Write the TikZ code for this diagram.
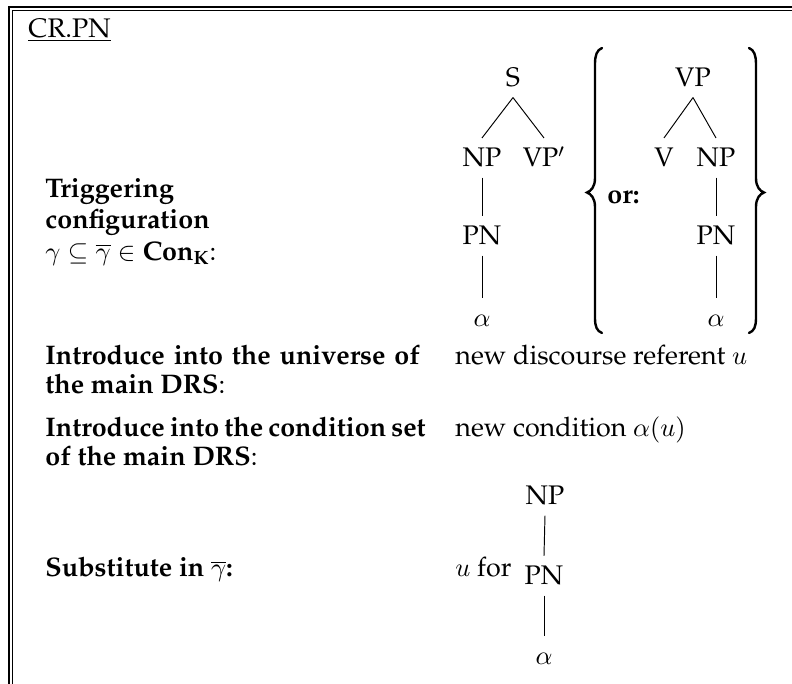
\documentclass[tikz,border=0pt]{standalone}
\usepackage[T1]{fontenc}
\usepackage{palatino}
\newcommand\fs{\fontsize{11.2}{13.4}\selectfont}
\begin{document}
\begin{tikzpicture}[x=0.4167pt,y=-0.4167pt,
  tn/.style={inner xsep=0pt, inner ysep=4.2pt, text height=7.7pt, text depth=0pt, anchor=base, font=\fs},
  edge/.style={line width=0.4pt},
  lbl/.style={inner sep=0pt, anchor=base west, font=\fontsize{11.2}{11.7}\selectfont\bfseries},
  txt/.style={inner sep=0pt, anchor=base west, font=\fs},
  brc/.style={line width=1pt, line cap=round}]
\useasboundingbox (0,0) rectangle (792,684);
% frame
\draw[line width=0.7pt] (9,684) -- (9,7) -- (792,7);
\draw[line width=0.4pt] (12.5,684) -- (12.5,10.5) -- (792,10.5);
% title
\node[txt] (title) at (28,37) {\underline{CR.PN}};
% left tree
\node[tn] (S) at (513,87) {S};
\node[tn] (NPa) at (482,167) {NP};
\node[tn] (VPp) at (544,167) {VP$'$};
\node[tn] (PNa) at (482,245) {PN};
\node[tn] (ala) at (482,327) {$\alpha$};
\draw[edge] (S.south) -- (NPa.north);
\draw[edge] (S.south) -- (VPp.north);
\draw[edge] (NPa.south) -- (PNa.north);
\draw[edge] (PNa.south) -- (ala.north);
% braces
\draw[brc] (602,48) .. controls (597,50) and (595,55) .. (595,64) -- (595,178)
  .. controls (595,187) and (591,191) .. (587,192.5)
  .. controls (591,194) and (595,198) .. (595,207) -- (595,318)
  .. controls (595,327) and (597,331) .. (602,333);
\draw[brc] (749,48) .. controls (754,50) and (756,55) .. (756,64) -- (756,178)
  .. controls (756,187) and (760,191) .. (764,192.5)
  .. controls (760,194) and (756,198) .. (756,207) -- (756,318)
  .. controls (756,327) and (754,331) .. (749,333);
\node[lbl] (or) at (607,203) {or:};
% right tree
\node[tn] (VP) at (693,87) {VP};
\node[tn] (V) at (664,167) {V};
\node[tn] (NPb) at (716,167) {NP};
\node[tn] (PNb) at (716,245) {PN};
\node[tn] (alb) at (716,327) {$\alpha$};
\draw[edge] (VP.south) -- (V.north);
\draw[edge] (VP.south) -- (NPb.north);
\draw[edge] (NPb.south) -- (PNb.north);
\draw[edge] (PNb.south) -- (alb.north);
% left column
\node[lbl, font=\fontsize{11.2}{13.2}\selectfont\bfseries] (trig) at (45,197)
  {\vtop{\hbox{Triggering}\hbox{configuration}\hbox{\mdseries$\gamma\subseteq\overline{\gamma}\in{}$\textbf{Con}$_{\mbox{\fontsize{8}{9}\selectfont\bfseries K}}$:}}};
\node[lbl] (uni) at (45,365)
  {\vtop{\hbox{\makebox[156pt][s]{Introduce into the universe of}}\hbox{the main DRS{\mdseries:}}}};
\node[lbl] (cond) at (45,437)
  {\vtop{\hbox{\makebox[156pt][s]{Introduce into the condition set}}\hbox{of the main DRS{\mdseries:}}}};
\node[lbl] (subst) at (45,577) {Substitute in $\overline{\gamma}$:};
% right column
\node[txt] (newdr) at (455,365) {new discourse referent $u$};
\node[txt] (newc) at (455,437) {new condition $\alpha(u)$};
\node[txt] (ufor) at (455,577) {$u$ for};
% bottom tree
\node[tn] (NPc) at (545,505) {NP};
\node[tn] (PNc) at (544,585) {PN};
\node[tn] (alc) at (544,665) {$\alpha$};
\draw[edge] (NPc.south) -- (PNc.north);
\draw[edge] (PNc.south) -- (alc.north);
\end{tikzpicture}
\end{document}
